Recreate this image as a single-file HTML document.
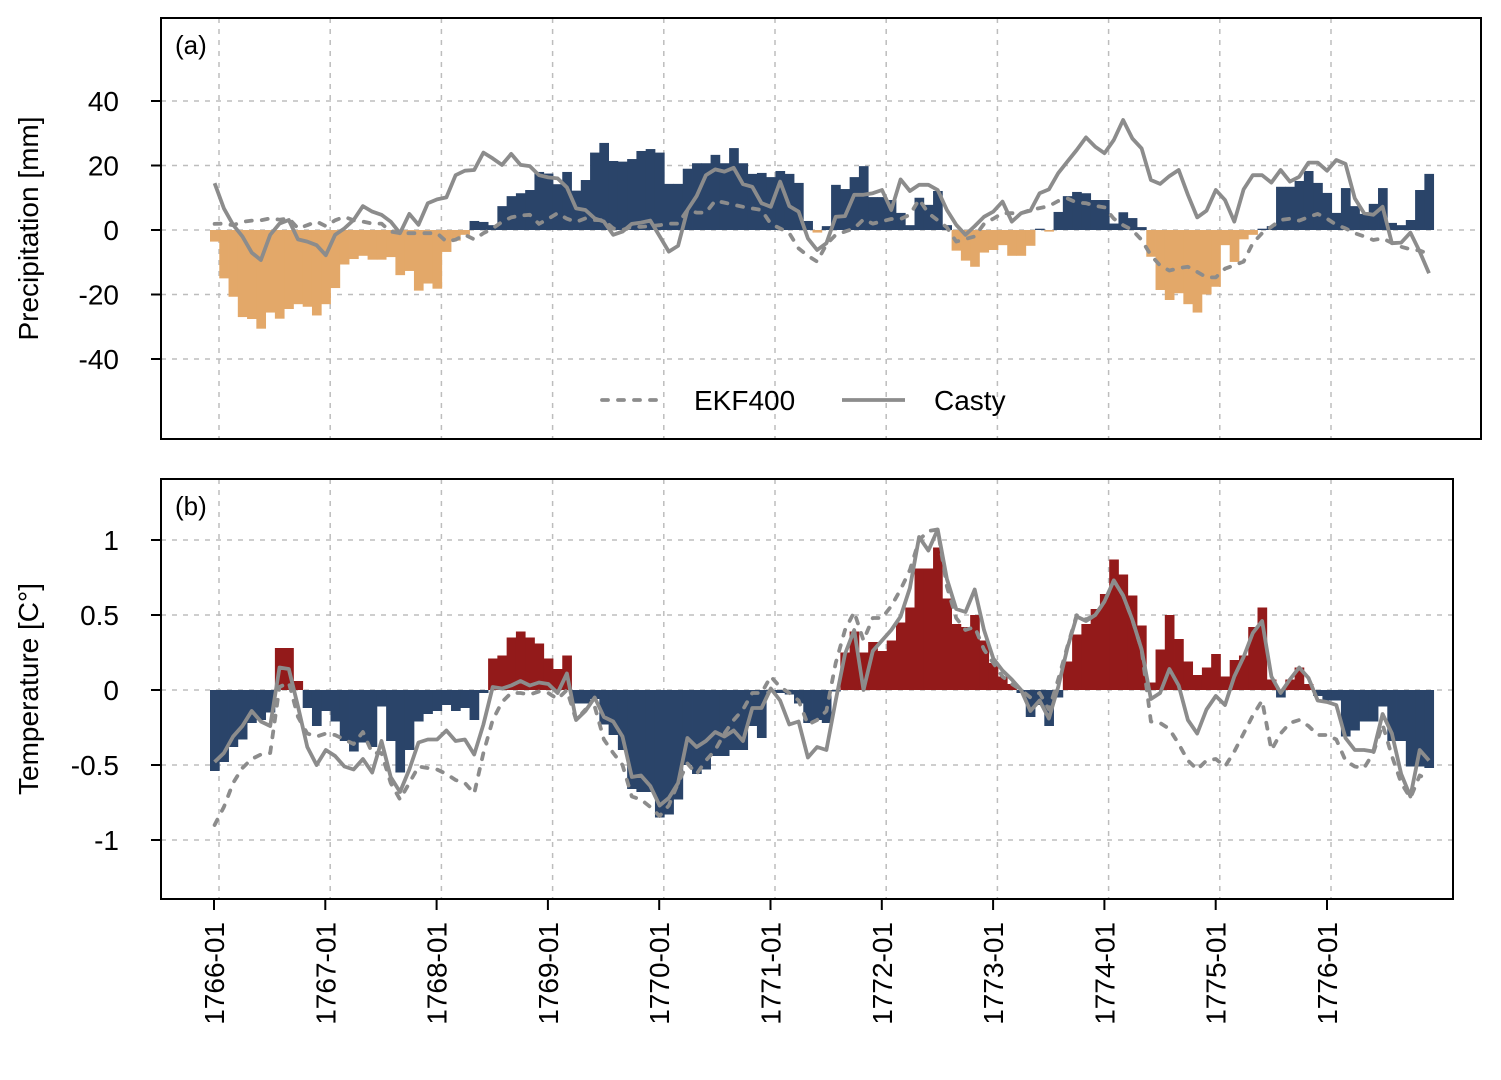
<!DOCTYPE html>
<html><head><meta charset="utf-8"><style>
html,body{margin:0;padding:0;background:#fff}
svg{display:block;font-family:"Liberation Sans",Arial,sans-serif}
</style></head><body>
<svg id="chart" width="1501" height="1080" viewBox="0 0 1501 1080" xmlns="http://www.w3.org/2000/svg"></svg>
<script>
const yearLabels = ["1766-01","1767-01","1768-01","1769-01","1770-01","1771-01","1772-01","1773-01","1774-01","1775-01","1776-01"];
const precipTicks = [40,20,0,-20,-40];
const precipTickLabels = ["40","20","0","-20","-40"];
const tempTicks = [1,0.5,0,-0.5,-1];
const tempTickLabels = ["1","0.5","0","-0.5","-1"];
const precipBars = [-3.6,-15,-20.7,-27,-27.6,-30.6,-25.6,-27.5,-24.5,-23,-23.8,-26.5,
-23,-18,-10.7,-9,-8,-9.2,-9.2,-8.4,-14,-12.7,-18.8,-16.6,
-18.2,-6.8,-3.3,-1.5,2.8,2.5,1.5,7.4,10.5,11.4,12.4,18,
17.5,14.2,18,12.2,15.5,24,27,21.4,21.2,22,24.5,25.1,
24,14.3,14.3,19,20.7,20.7,23.3,20.7,25.4,20.7,17.4,17.7,
16.4,18.3,17.4,14.6,2.8,-0.8,1.2,14,12.7,16.4,19.8,10.2,
10.2,9.3,5.3,1.5,10,7.8,12.1,1.5,-6.4,-9.5,-11.4,-7,
-6.2,-4.7,-8,-8,-4.9,0.4,-0.5,5.6,10.5,11.8,11.4,9.3,
9.3,2,5.5,3.7,0.9,-8.3,-18.6,-21.7,-19.6,-23,-25.6,-20,
-17.6,-4.7,-9.9,-2.9,-1.5,0.4,1.2,13.4,13.4,15.2,18.3,14.6,
11.5,5.3,13,7.4,5,8.1,13,2.2,1.5,3.1,12.4,17.4];
const precipCasty = [14.5,6.7,1.6,-2,-7,-9.3,-1.5,2,3.1,-2.9,-3.6,-4.7,
-7.8,-1.5,0.5,3.1,7.4,5.7,4.7,2.6,-1,5,1.6,8.3,
9.5,10.1,17,18.4,18.6,24,22.2,20.2,23.6,20.2,19.8,17,
16.3,16,13.2,6.7,6.2,3.6,2.6,-1.5,-0.5,1.9,2.3,2.9,
-1.9,-6.7,-4.9,6.2,10.5,17,18.8,18.1,19.3,14.2,13.4,8.3,
7.2,15,7.4,5.7,-2.6,-6.2,-4.1,4.1,4.3,10.9,10.9,11.4,
12.4,6.2,15.7,12.1,14,14,12.4,6.2,1.6,-1.5,1.2,4.1,
5.7,8.8,2.6,5.2,6,11.4,12.6,17.6,21.2,24.8,28.7,25.8,
23.8,27.9,34.1,28.4,25.3,15.5,14.3,16.7,18.6,10.9,3.9,6,
12.4,9.3,2.6,12.6,17,17,14.7,18.6,15,16.5,20.9,20.9,
18.4,21.7,20.5,9.8,5.2,4.7,7.2,-4.1,-3.9,-0.8,-6.7,-13.4];
const precipEKF = [1.9,2,1.5,2.5,2.9,3,3.6,3.2,3.6,0.5,1.5,2.6,
1.2,3,4.1,3,2.6,2,2,-0.5,-1,-1,-1,-1,
-1,-3.6,-3,-1.5,-2.9,-1,0.5,2.5,3.9,4.5,4.7,1.9,
3.5,5.2,3.5,2.5,3.6,3.1,3,0.5,0,1,1,1.2,
1.5,2,2,6.2,5.4,5.4,9.1,8.5,7.8,7.2,6.7,6.2,
1.9,0.5,-1,-5.7,-8,-9.8,-4.5,-1.5,-0.5,0.5,3.3,2,
2.7,3.4,3.4,4.7,9.5,5.2,3,0.8,-3.6,-2.8,-2,1.9,
3.5,5.2,5.2,5.2,6.2,6.8,7.4,9,9.8,8.5,8.3,7.5,
7,3.5,1.5,0,-3.1,-7.8,-11,-12.6,-11.8,-11.4,-13,-14.7,
-14.7,-12,-10.9,-9.8,-4.1,-1,1,3.1,3.5,2.9,4,5,
3.5,1.6,0.5,-1,-2,-3.1,-2.6,-4,-5.2,-6,-6.4,-7.4];
const tempBars = [-0.54,-0.48,-0.38,-0.33,-0.22,-0.2,-0.15,0.28,0.28,0.06,-0.12,-0.24,
-0.14,-0.21,-0.34,-0.41,-0.35,-0.38,-0.11,-0.34,-0.55,-0.4,-0.21,-0.16,
-0.14,-0.1,-0.14,-0.12,-0.2,-0.02,0.21,0.23,0.35,0.39,0.35,0.31,
0.21,0.14,0.23,-0.09,-0.09,-0.06,-0.23,-0.3,-0.4,-0.66,-0.68,-0.68,
-0.85,-0.83,-0.73,-0.5,-0.56,-0.53,-0.44,-0.44,-0.4,-0.4,-0.24,-0.32,
-0.01,-0.02,-0.03,-0.09,-0.22,-0.2,-0.22,-0.01,0.25,0.39,0.25,0.32,
0.26,0.33,0.45,0.55,0.81,0.81,0.95,0.61,0.44,0.42,0.5,0.33,
0.18,0.09,0.04,-0.02,-0.18,-0.1,-0.24,-0.05,0.19,0.37,0.44,0.54,
0.64,0.87,0.77,0.63,0.43,0.05,0.27,0.5,0.34,0.19,0.1,0.15,
0.24,0.09,0.2,0.23,0.42,0.55,0.07,-0.05,0.07,0.15,0.04,-0.04,
-0.07,-0.07,-0.31,-0.27,-0.21,-0.21,-0.11,-0.34,-0.34,-0.51,-0.51,-0.52];
const tempCasty = [-0.48,-0.42,-0.31,-0.24,-0.14,-0.21,-0.24,0.15,0.14,-0.11,-0.38,-0.5,
-0.4,-0.44,-0.51,-0.53,-0.46,-0.55,-0.34,-0.58,-0.68,-0.53,-0.35,-0.33,
-0.33,-0.27,-0.34,-0.33,-0.43,-0.23,0.02,0.01,0.03,0.06,0.03,0.05,
0.04,-0.02,0.11,-0.2,-0.14,-0.05,-0.18,-0.21,-0.31,-0.58,-0.57,-0.64,
-0.77,-0.72,-0.62,-0.32,-0.38,-0.34,-0.28,-0.31,-0.27,-0.34,-0.12,-0.12,
0.01,-0.07,-0.23,-0.21,-0.45,-0.38,-0.4,-0.07,0.24,0.4,0,0.26,
0.33,0.4,0.49,0.68,1.02,0.93,1.07,0.74,0.54,0.52,0.67,0.4,
0.21,0.13,0.07,0,-0.14,-0.07,-0.19,0.02,0.28,0.49,0.46,0.5,
0.59,0.73,0.63,0.47,0.27,-0.06,-0.02,0.14,0.03,-0.2,-0.29,-0.13,
-0.04,-0.1,0.09,0.22,0.38,0.46,0.09,-0.02,0.07,0.15,0.08,-0.07,
-0.08,-0.1,-0.32,-0.4,-0.4,-0.41,-0.16,-0.29,-0.56,-0.71,-0.4,-0.47];
const tempEKF = [-0.9,-0.78,-0.62,-0.52,-0.46,-0.43,-0.42,0.02,0.05,-0.18,-0.29,-0.31,
-0.29,-0.3,-0.33,-0.36,-0.28,-0.42,-0.42,-0.62,-0.73,-0.62,-0.51,-0.52,
-0.53,-0.56,-0.6,-0.62,-0.69,-0.42,-0.2,-0.08,-0.02,-0.02,-0.03,-0.01,
-0.02,-0.06,0,-0.2,-0.13,-0.11,-0.33,-0.42,-0.5,-0.71,-0.73,-0.78,
-0.84,-0.77,-0.62,-0.49,-0.56,-0.47,-0.4,-0.29,-0.2,-0.13,-0.02,-0.02,
0.09,0.02,-0.02,-0.07,-0.23,-0.2,-0.14,0.18,0.4,0.52,0.33,0.48,
0.48,0.56,0.67,0.8,1.0,1.06,1.07,0.69,0.48,0.4,0.42,0.27,
0.18,0.09,0.04,0,-0.05,-0.02,-0.13,0.07,0.29,0.5,0.47,0.5,
0.59,0.73,0.63,0.47,0.27,-0.21,-0.22,-0.26,-0.36,-0.47,-0.53,-0.47,
-0.46,-0.51,-0.41,-0.29,-0.17,-0.07,-0.4,-0.29,-0.22,-0.2,-0.24,-0.3,
-0.3,-0.33,-0.47,-0.51,-0.52,-0.42,-0.23,-0.44,-0.62,-0.72,-0.57,-0.6];

const NS = "http://www.w3.org/2000/svg";
const svg = document.getElementById("chart");
const BLUE = "#2a4469", ORANGE = "#e3a869", RED = "#931a1a", GREY = "#8c8c8c";
const MW = 9.27;
function xCenter(i){ return 214.6 + MW * i; }
function xLeft(i){ return 210 + MW * i; }
function gridX(k){ return 219 + 111.2 * k; }
function tickX(k){ return 214 + 111.3 * k; }
function yP(v){ return 230 - v * 3.225; }
function yT(v){ return 690 - v * 150; }
function mk(tag, attrs, parent){
  const e = document.createElementNS(NS, tag);
  for (const k in attrs) e.setAttribute(k, attrs[k]);
  (parent || svg).appendChild(e);
  return e;
}

function panel(opts){
  const g = mk("g", {});
  
  
  const grid = mk("g", {stroke:"#bdbdbd","stroke-width":1.5,"stroke-dasharray":"5,6"}, g);
  
  
  for (let k = 0; k < yearLabels.length; k++) {
    mk("line", {x1:gridX(k), x2:gridX(k), y1:opts.top, y2:opts.bottom}, grid);
  }
  opts.ticks.forEach(function(t){
    mk("line", {x1:opts.left, x2:opts.right, y1:opts.y(t), y2:opts.y(t)}, grid);
  });
  const bars = mk("g", {}, g);
  
  
  opts.bars.forEach(function(v, i){
    const y0 = opts.y(0), y1 = opts.y(v);
    const r = mk("rect", {x:xLeft(i), width:MW+0.4, y:Math.min(y0,y1), height:Math.abs(y1-y0), fill: v >= 0 ? opts.pos : opts.neg}, bars);
    
    
  });
  function line(arr, dashed, nm){
    let d = "";
    arr.forEach(function(v, i){ d += (i ? "L" : "M") + xCenter(i).toFixed(1) + "," + opts.y(v).toFixed(1); });
    const p = mk("path", {d:d, fill:"none", stroke:GREY, "stroke-width":3.8, "stroke-linejoin":"round", "stroke-linecap": dashed ? "round" : "butt"}, g);
    if (dashed) p.setAttribute("stroke-dasharray", "6,10");
    
    
  }
  line(opts.ekf, true, opts.name + '-ekf400-line');
  line(opts.casty, false, opts.name + '-casty-line');
  const box = mk("rect", {x:opts.left, y:opts.top, width:opts.right-opts.left, height:opts.bottom-opts.top, fill:"none", stroke:"#000", "stroke-width":2}, g);
  
  
  opts.ticks.forEach(function(t, j){
    mk("line", {x1:opts.left-10, x2:opts.left, y1:opts.y(t), y2:opts.y(t), stroke:"#000","stroke-width":2}, g);
    const tx = mk("text", {x:opts.left-42, y:opts.y(t)+10, "text-anchor":"end", "font-size":28, fill:"#000"}, g);
    tx.textContent = opts.labels[j];
    
    
  });
  const yt = mk("text", {x:0, y:0, transform:"translate(38," + ((opts.top+opts.bottom)/2) + ") rotate(-90)", "text-anchor":"middle", "font-size":28, fill:"#000"}, g);
  yt.textContent = opts.ytitle;
  
  
  const pl = mk("text", {x:175, y:opts.top+36, "font-size":26, fill:"#000"}, g);
  pl.textContent = opts.letter;
  
  
}

panel({name:"precip-panel", left:161, right:1481, top:18, bottom:439, y:yP, ticks:precipTicks, labels:precipTickLabels,
  bars:precipBars, casty:precipCasty, ekf:precipEKF, pos:BLUE, neg:ORANGE, ytitle:"Precipitation [mm]", letter:"(a)"});
panel({name:"temp-panel", left:161, right:1453, top:479, bottom:899, y:yT, ticks:tempTicks, labels:tempTickLabels,
  bars:tempBars, casty:tempCasty, ekf:tempEKF, pos:RED, neg:BLUE, ytitle:"Temperature [C°]", letter:"(b)"});

const leg = mk("g", {});


const l1 = mk("line", {x1:602, x2:665, y1:400, y2:400, stroke:GREY, "stroke-width":3.8, "stroke-dasharray":"6,10", "stroke-linecap":"round"}, leg);


const t1 = mk("text", {x:694, y:410, "font-size":28, fill:"#000"}, leg);
t1.textContent = "EKF400";


const l2 = mk("line", {x1:842, x2:905, y1:400, y2:400, stroke:GREY, "stroke-width":3.8}, leg);


const t2 = mk("text", {x:934, y:410, "font-size":28, fill:"#000"}, leg);
t2.textContent = "Casty";



const xa = mk("g", {});


mk("line", {x1:tickX(0), x2:tickX(yearLabels.length-1), y1:899, y2:899, stroke:"#000","stroke-width":2}, xa);
yearLabels.forEach(function(lab, k){
  mk("line", {x1:tickX(k), x2:tickX(k), y1:899, y2:910, stroke:"#000","stroke-width":2}, xa);
  const t = mk("text", {x:0, y:0, transform:"translate(" + (tickX(k)+10) + ",922) rotate(-90)", "text-anchor":"end", "font-size":28, fill:"#000"}, xa);
  t.textContent = lab;
  
  
});
</script>
</body></html>
